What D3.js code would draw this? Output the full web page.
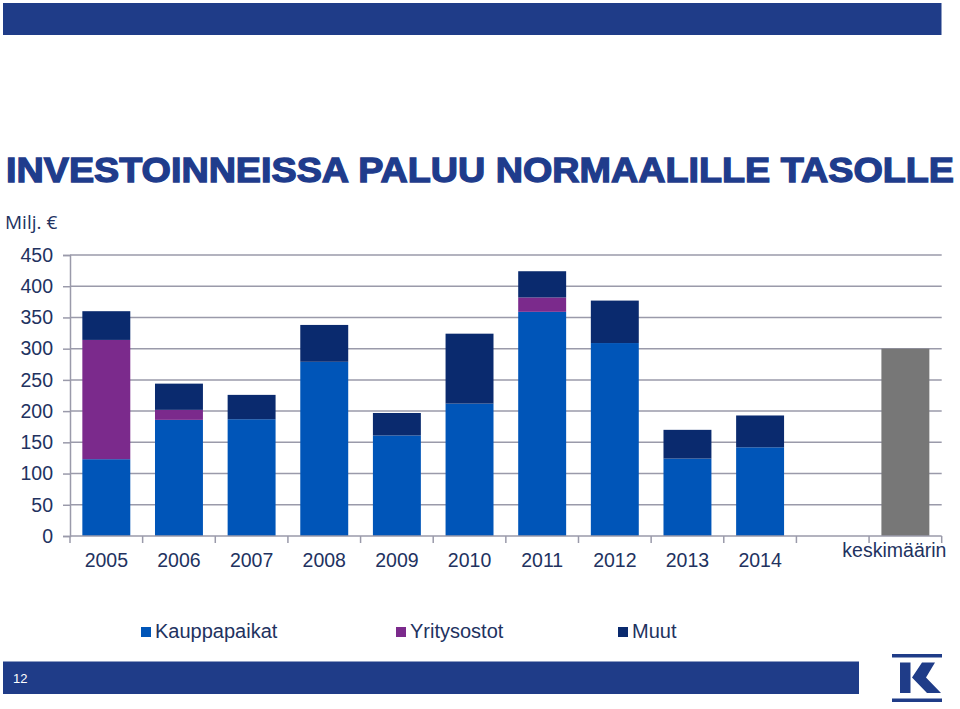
<!DOCTYPE html>
<html>
<head>
<meta charset="utf-8">
<script src="https://cdn.jsdelivr.net/npm/d3@7"></script>
<style>
  html, body { margin: 0; padding: 0; background: #fff; }
  svg { display: block; }
</style>
</head>
<body>
<svg id="chart" width="960" height="709"></svg>
<script>
const categories = ["2005","2006","2007","2008","2009","2010","2011","2012","2013","2014","","keskimäärin"];
const kauppapaikat = [123,186,187,279,161,212,359,309,124,142,0,0];
const yritysostot  = [191,16,0,0,0,0,23,0,0,0,0,0];
const muut         = [46,42,39,59,36,112,42,68,46,51,0,0];
const keskimaarin  = [0,0,0,0,0,0,0,0,0,0,0,300];
const yTicks = [0,50,100,150,200,250,300,350,400,450];
const seriesNames = ["Kauppapaikat","Yritysostot","Muut"];

const colors = { Kauppapaikat: "#0055b8", Yritysostot: "#7b2a8c", Muut: "#0a2a6e", avg: "#777777" };
const navy = "#1f3c88";
const textCol = "#22325f";

const svg = d3.select("#chart");

// top banner
svg.append("rect").attr("x",3).attr("y",3).attr("width",938.5).attr("height",32).attr("fill",navy);

// title
svg.append("text").attr("x",6).attr("y",182)
  .attr("font-family","'Liberation Sans', Arial, sans-serif").attr("font-weight","bold")
  .attr("font-size",35).attr("fill","#1f3c8c").attr("stroke","#1f3c8c").attr("stroke-width",1.3)
  .attr("textLength",948).attr("lengthAdjust","spacingAndGlyphs")
  .text("INVESTOINNEISSA PALUU NORMAALILLE TASOLLE");

svg.append("text").attr("x",5).attr("y",229)
  .attr("font-family","'Open Sans', 'Noto Sans', sans-serif").attr("font-size",19)
  .attr("fill",textCol).text("Milj. €");

// scales
const x0 = 70, x1 = 941.7, yBase = 536, yTop = 255;
const x = d3.scaleBand().domain(categories).range([x0,x1]).paddingInner(0.34).paddingOuter(0.17);
const y = d3.scaleLinear().domain([0,450]).range([yBase,yTop]);

// gridlines
svg.append("g").selectAll("line").data(yTicks.filter(d=>d>0)).join("line")
  .attr("x1",x0).attr("x2",x1).attr("y1",d=>y(d)).attr("y2",d=>y(d))
  .attr("stroke","#9a9aaa").attr("stroke-width",1.5);

// stacked bars
const rows = categories.map((c,i)=>({cat:c, Kauppapaikat:kauppapaikat[i], Yritysostot:yritysostot[i], Muut:muut[i]}));
const stack = d3.stack().keys(seriesNames)(rows);
svg.append("g").selectAll("g").data(stack).join("g")
  .attr("fill",d=>colors[d.key])
  .selectAll("rect").data(d=>d.filter(s=>s[1]-s[0]>0)).join("rect")
  .attr("x",d=>x(d.data.cat)).attr("width",x.bandwidth())
  .attr("y",d=>y(d[1])).attr("height",d=>y(d[0])-y(d[1]));

// average bar
svg.append("g").selectAll("rect").data(categories.map((c,i)=>({cat:c,v:keskimaarin[i]})).filter(d=>d.v>0)).join("rect")
  .attr("x",d=>x(d.cat)).attr("width",x.bandwidth())
  .attr("y",d=>y(d.v)).attr("height",d=>y(0)-y(d.v)).attr("fill",colors.avg);

// y axis
const yAxis = svg.append("g").attr("transform",`translate(${x0},0)`)
  .call(d3.axisLeft(y).tickValues(yTicks).tickSize(7).tickPadding(10));
yAxis.select(".domain").attr("stroke","#9a9aaa").attr("stroke-width",1.5);
yAxis.selectAll(".tick line").attr("stroke","#9a9aaa").attr("stroke-width",1.5);
yAxis.selectAll("text").attr("font-family","'Liberation Sans', Arial, sans-serif")
  .attr("font-size",19.5).attr("fill",textCol);

// x axis line
const xAxis = svg.append("g").attr("transform",`translate(0,${yBase})`)
  .call(d3.axisBottom(x).tickSize(0).tickPadding(17));
xAxis.select(".domain").attr("d",`M${x0},0H${x1}`).attr("stroke","#9a9aaa").attr("stroke-width",1.5);
xAxis.selectAll("text").attr("font-family","'Liberation Sans', Arial, sans-serif")
  .attr("font-size",19.5).attr("fill",textCol).attr("dy","0.71em")
  .attr("transform",d=>d==="keskimäärin" ? "translate(-11,-10)" : null);
// category boundary ticks
svg.append("g").selectAll("line").data(d3.range(categories.length+1)).join("line")
  .attr("x1",i=>x0+i*x.step()).attr("x2",i=>x0+i*x.step())
  .attr("y1",yBase).attr("y2",yBase+7)
  .attr("stroke","#9a9aaa").attr("stroke-width",1.5);

// legend
const legendX = [141,396,618];
const lg = svg.append("g").selectAll("g").data(seriesNames).join("g")
  .attr("transform",(d,i)=>`translate(${legendX[i]},627)`);
lg.append("rect").attr("width",10).attr("height",10).attr("fill",d=>colors[d]);
lg.append("text").attr("x",14).attr("y",11)
  .attr("font-family","'Liberation Sans', Arial, sans-serif").attr("font-size",20)
  .attr("fill",textCol).text(d=>d);

// bottom bar
svg.append("rect").attr("x",3).attr("y",661.5).attr("width",856).attr("height",32.5).attr("fill",navy);
svg.append("text").attr("x",13).attr("y",683).attr("font-family","'Liberation Sans', Arial, sans-serif")
  .attr("font-size",13).attr("fill","#fff").text("12");

// logo
const logo = svg.append("g").attr("fill",navy);
logo.append("rect").attr("x",892).attr("y",654).attr("width",50).attr("height",3.5);
logo.append("rect").attr("x",892).attr("y",698.5).attr("width",50).attr("height",3.5);
logo.append("rect").attr("x",900).attr("y",662.5).attr("width",10.5).attr("height",30.5);
logo.append("path").attr("d","M922,662.5 L935,662.5 L926,677.5 L941,693 L927,693 L912,677.5 Z");
</script>
</body>
</html>
